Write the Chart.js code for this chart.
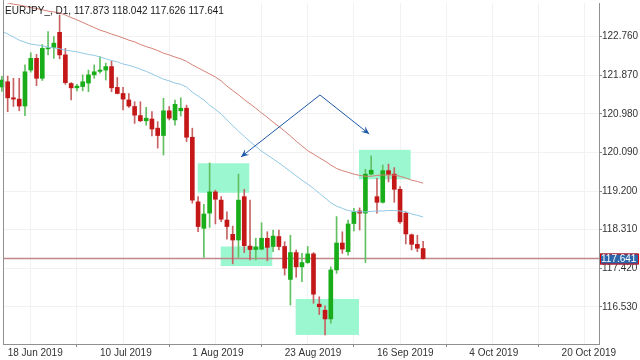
<!DOCTYPE html>
<html>
<head>
<meta charset="utf-8">
<script src="https://cdn.jsdelivr.net/npm/chart.js@4.4.1/dist/chart.umd.min.js"></script>
<style>
html,body{margin:0;padding:0;background:#ffffff;}
#wrap{width:640px;height:360px;position:relative;}
</style>
</head>
<body>
<div id="wrap"><canvas id="c" width="640" height="360"></canvas></div>
<script>
// ---------- DATA ----------
const chartTitle = 'EURJPY_, D1, 117.873 118.042 117.626 117.641';
const firstBarIndex = -1; // first (partly hidden) daily bar sits one slot before 18 Jun 2019

const opens  = [121.60,121.72,121.35,121.32,121.16,121.99,122.26,121.80,122.48,122.51,122.86,122.34,121.68,121.58,121.61,121.69,121.88,121.96,121.99,122.07,121.59,121.45,121.30,121.15,120.94,120.82,120.86,120.65,120.48,121.05,120.84,121.05,121.11,120.44,118.95,118.34,118.69,119.18,118.99,118.53,118.20,118.07,119.07,117.93,117.85,117.86,118.11,117.92,118.15,117.92,117.16,117.78,117.45,117.55,117.75,116.59,116.45,116.25,117.38,118.00,117.80,118.45,118.74,118.69,119.59,119.07,118.94,119.67,119.59,119.24,118.69,118.19,117.97,117.873];
const highs  = [121.85,121.85,121.80,121.80,122.11,122.39,122.35,122.58,122.88,122.76,123.26,122.49,121.70,121.66,121.88,121.99,122.11,122.30,122.15,122.20,121.82,121.59,121.45,121.26,121.26,121.13,121.03,120.80,121.34,121.15,121.30,121.35,121.18,120.65,119.07,118.89,119.85,119.22,119.07,118.72,118.39,119.59,119.24,118.99,118.11,118.47,118.26,118.30,118.30,118.03,118.18,117.84,117.76,117.92,117.78,116.76,116.55,117.45,118.61,118.26,118.53,118.80,118.81,119.70,120.01,119.49,119.80,119.82,119.74,119.30,118.72,118.21,118.18,118.042];
const lows   = [121.50,121.03,121.15,121.05,120.94,121.94,121.63,121.75,122.34,122.26,122.25,121.66,121.30,121.51,121.51,121.49,121.80,121.92,121.76,121.49,121.44,121.07,121.13,120.76,120.80,120.72,120.47,120.19,120.03,120.84,120.72,120.93,120.34,118.92,118.26,117.67,118.36,118.44,118.49,118.09,117.52,117.67,117.78,117.61,117.61,117.84,117.59,117.80,117.84,117.26,116.57,117.21,117.11,117.53,116.61,116.35,115.88,116.15,117.30,117.76,117.72,118.28,118.30,117.55,119.57,118.69,118.92,119.41,118.94,118.45,117.98,117.84,117.80,117.626];
const closes = [121.76,121.35,121.32,121.16,121.95,122.26,121.80,122.49,122.50,122.61,122.34,121.70,121.58,121.62,121.72,121.88,121.95,121.99,122.07,121.58,121.45,121.32,121.16,120.95,120.82,120.88,120.63,120.48,121.05,120.88,121.20,121.11,120.44,118.99,118.38,118.67,119.18,119.01,118.55,118.38,118.07,118.99,117.94,117.85,117.91,118.11,117.90,118.16,117.92,117.42,117.78,117.45,117.55,117.75,116.82,116.53,116.25,117.38,118.00,117.86,118.44,118.72,118.69,119.59,119.68,118.94,119.67,119.58,119.24,118.49,118.21,117.97,117.88,117.641];

// moving averages (slow = red, fast = light blue)
const maSlow = [123.57,123.54,123.51,123.49,123.46,123.43,123.41,123.38,123.35,123.33,123.31,123.26,123.20,123.15,123.09,123.03,122.97,122.91,122.87,122.82,122.78,122.73,122.68,122.64,122.58,122.53,122.49,122.44,122.38,122.34,122.29,122.25,122.19,122.11,122.04,121.97,121.90,121.83,121.74,121.62,121.52,121.42,121.31,121.21,121.11,121.00,120.90,120.79,120.69,120.58,120.47,120.35,120.24,120.13,120.05,119.97,119.89,119.80,119.72,119.67,119.63,119.59,119.56,119.54,119.54,119.56,119.57,119.57,119.57,119.54,119.50,119.45,119.42,119.38];
const maFast = [122.89,122.82,122.75,122.68,122.63,122.59,122.57,122.55,122.52,122.50,122.48,122.45,122.43,122.41,122.38,122.35,122.33,122.29,122.25,122.21,122.18,122.13,122.10,122.06,122.01,121.96,121.90,121.84,121.78,121.74,121.69,121.66,121.60,121.48,121.39,121.30,121.18,121.08,120.98,120.84,120.71,120.58,120.46,120.34,120.23,120.12,120.03,119.94,119.85,119.75,119.65,119.55,119.45,119.36,119.26,119.15,119.04,118.93,118.85,118.80,118.75,118.73,118.72,118.72,118.73,118.74,118.74,118.75,118.75,118.74,118.72,118.67,118.64,118.60];

const xTickBars   = [0, 16, 32, 48, 64, 80, 96];
const xTickLabels = ['18 Jun 2019','10 Jul 2019','1 Aug 2019','23 Aug 2019','16 Sep 2019','4 Oct 2019','20 Oct 2019'];
const yTickValues = [116.530, 117.420, 118.310, 119.200, 120.090, 120.980, 121.870, 122.760];
const lastPrice = 117.641;

// highlight rectangles (bar index / price)
const zones = [
  {x0: 32.93, x1: 41.87, y0: 119.16, y1: 119.84},
  {x0: 36.92, x1: 45.86, y0: 117.47, y1: 117.92},
  {x0: 49.91, x1: 60.88, y0: 115.88, y1: 116.71},
  {x0: 60.88, x1: 69.84, y0: 119.47, y1: 120.15}
];
const arrowStart = {x: 54.12, y: 121.415};
const arrowEnds  = [{x: 40.43, y: 119.985}, {x: 62.66, y: 120.515}];

// ---------- STYLE ----------
const BULL = '#19ad19', BEAR = '#c41818';
const BULL_WICK = '#62c062', BEAR_WICK = '#c86262';
const FONT = '"Liberation Sans", Arial, sans-serif';

const barX = opens.map((_, k) => k + firstBarIndex);
const bull = opens.map((o, k) => closes[k] >= o);
const labelMap = {};
xTickBars.forEach((b, k) => { labelMap[b] = xTickLabels[k]; });

const overlay = {
  id: 'overlay',
  beforeDatasetsDraw(chart) {
    const {ctx, chartArea: a, scales: {x, y}} = chart;
    ctx.save();
    ctx.beginPath(); ctx.rect(a.left, a.top, a.right - a.left, a.bottom - a.top); ctx.clip();
    ctx.fillStyle = 'rgb(155,247,208)';
    zones.forEach(z => {
      const l = x.getPixelForValue(z.x0), r = x.getPixelForValue(z.x1);
      const t = y.getPixelForValue(z.y1), b = y.getPixelForValue(z.y0);
      ctx.fillRect(l, t, r - l, b - t);
    });
    const py = y.getPixelForValue(lastPrice);
    ctx.strokeStyle = 'rgb(192,134,140)';
    ctx.lineWidth = 1.5;
    ctx.beginPath(); ctx.moveTo(a.left, py); ctx.lineTo(a.right, py); ctx.stroke();
    ctx.restore();
  },
  afterDatasetsDraw(chart) {
    const {ctx, scales: {x, y}} = chart;
    ctx.save();
    ctx.strokeStyle = '#1d58a6'; ctx.fillStyle = '#1d58a6'; ctx.lineWidth = 1;
    const sx = x.getPixelForValue(arrowStart.x), sy = y.getPixelForValue(arrowStart.y);
    arrowEnds.forEach(e => {
      const ex = x.getPixelForValue(e.x), ey = y.getPixelForValue(e.y);
      ctx.beginPath(); ctx.moveTo(sx, sy); ctx.lineTo(ex, ey); ctx.stroke();
      const ang = Math.atan2(ey - sy, ex - sx), L = 8, W = 3.5;
      ctx.beginPath();
      ctx.moveTo(ex, ey);
      ctx.lineTo(ex - L * Math.cos(ang) + W * Math.sin(ang), ey - L * Math.sin(ang) - W * Math.cos(ang));
      ctx.lineTo(ex - L * 0.6 * Math.cos(ang), ey - L * 0.6 * Math.sin(ang));
      ctx.lineTo(ex - L * Math.cos(ang) - W * Math.sin(ang), ey - L * Math.sin(ang) + W * Math.cos(ang));
      ctx.closePath(); ctx.fill();
    });
    ctx.restore();
  },
  afterDraw(chart) {
    const {ctx, chartArea: a, scales: {y}} = chart;
    ctx.save();
    // left frame
    ctx.strokeStyle = '#909090'; ctx.lineWidth = 1;
    ctx.beginPath(); ctx.moveTo(a.left + 0.5, a.top - 3); ctx.lineTo(a.left + 0.5, a.bottom); ctx.stroke();
    // title
    ctx.font = '10px ' + FONT;
    ctx.fillStyle = '#1a1a1a';
    ctx.textBaseline = 'alphabetic';
    ctx.textAlign = 'left';
    ctx.fillText(chartTitle, 5, 13.5);
    // last price label
    const py = Math.round(y.getPixelForValue(lastPrice));
    ctx.fillStyle = '#2c66aa';
    ctx.fillRect(a.right + 1, py - 5.5, 38, 11);
    ctx.strokeStyle = '#e00000';
    ctx.strokeRect(a.right + 1.5, py - 5, 38, 10);
    ctx.fillStyle = '#ffffff';
    ctx.textBaseline = 'middle';
    ctx.fillText(lastPrice.toFixed(3), a.right + 2, py + 0.5);
    ctx.restore();
  }
};

new Chart(document.getElementById('c'), {
  type: 'bar',
  data: {
    datasets: [
      {
        type: 'line', label: 'slow MA', order: 1,
        data: barX.map((x, k) => ({x, y: maSlow[k]})),
        borderColor: 'rgb(214,128,118)', borderWidth: 1, pointRadius: 0, tension: 0
      },
      {
        type: 'line', label: 'fast MA', order: 1,
        data: barX.map((x, k) => ({x, y: maFast[k]})),
        borderColor: 'rgb(145,200,230)', borderWidth: 1, pointRadius: 0, tension: 0
      },
      {
        label: 'body', order: 2, grouped: false,
        data: barX.map((x, k) => ({x, y: [opens[k], closes[k]]})),
        backgroundColor: bull.map(b => b ? BULL : BEAR),
        barThickness: 4, minBarLength: 1, borderWidth: 0,
        clip: {left: 3, top: 0, right: 0, bottom: 0}
      },
      {
        label: 'wick', order: 3, grouped: false,
        data: barX.map((x, k) => ({x, y: [lows[k], highs[k]]})),
        backgroundColor: bull.map(b => b ? BULL_WICK : BEAR_WICK),
        barThickness: 1, borderWidth: 0,
        clip: {left: 3, top: 0, right: 0, bottom: 0}
      }
    ]
  },
  options: {
    responsive: false,
    animation: false,
    devicePixelRatio: 1,
    layout: {padding: {left: 3, top: 3, right: 0, bottom: 0}},
    plugins: {legend: {display: false}, tooltip: {enabled: false}, title: {display: false}},
    scales: {
      x: {
        type: 'linear', min: -0.81, max: 102.48, offset: false,
        grid: {
          color: '#f2f2f2', tickLength: 3,
          tickColor: c => (c.tick && labelMap[c.tick.value] !== undefined) ? '#8a8a8a' : 'rgba(0,0,0,0)'
        },
        border: {color: '#909090'},
        ticks: {
          autoSkip: false, maxRotation: 0, minRotation: 0, align: 'start', padding: 0,
          color: '#333333', font: {family: FONT, size: 10},
          callback: v => labelMap[v] !== undefined ? labelMap[v] : ''
        },
        afterBuildTicks: s => {
          const t = [];
          for (let v = 0; v <= s.max; v += 8) t.push({value: v});
          s.ticks = t;
        },
        afterFit: s => { s.height = 16; s.paddingLeft = 0; s.paddingRight = 0; }
      },
      y: {
        position: 'right', min: 115.671, max: 123.537,
        grid: {color: '#f2f2f2', tickLength: 3, tickColor: '#8a8a8a'},
        border: {color: '#909090'},
        ticks: {
          padding: 0, color: '#333333', font: {family: FONT, size: 10},
          callback: v => Number(v).toFixed(3)
        },
        afterBuildTicks: s => { s.ticks = yTickValues.map(v => ({value: v})); },
        afterFit: s => { s.width = 41; s.paddingTop = 0; s.paddingBottom = 0; }
      }
    }
  },
  plugins: [overlay]
});
</script>
</body>
</html>
